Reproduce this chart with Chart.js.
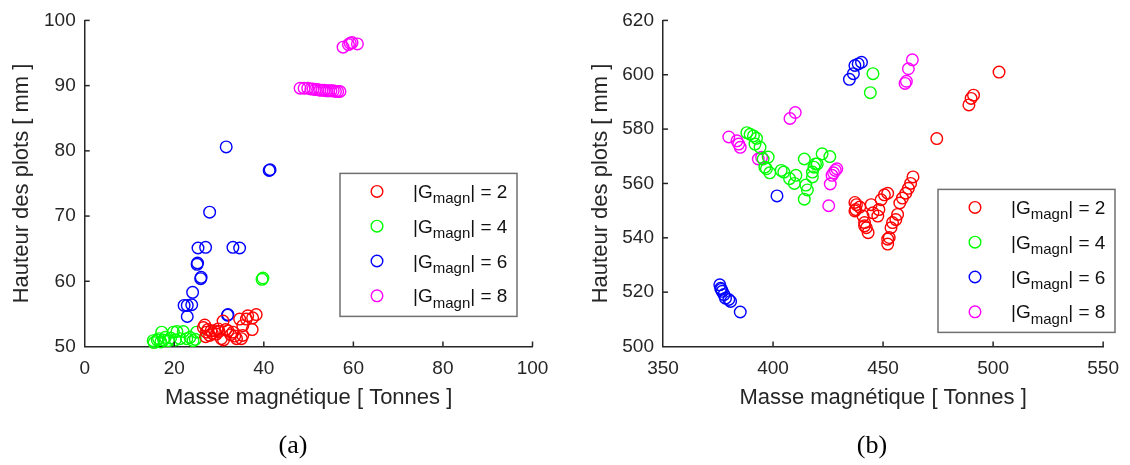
<!DOCTYPE html>
<html>
<head>
<meta charset="utf-8">
<script src="https://cdn.jsdelivr.net/npm/chart.js@4.4.0/dist/chart.umd.min.js"></script>
<style>
html,body{margin:0;padding:0;background:#fff;}
#wrap{position:relative;width:1130px;height:465px;overflow:hidden;background:#fff;}
.cv{position:absolute;top:0;width:565px;height:465px;}
.cap{position:absolute;top:430px;line-height:30px;font-family:"Liberation Serif","DejaVu Serif",serif;font-size:26px;color:#000;transform:translateX(-50%);white-space:nowrap;}
</style>
</head>
<body>
<div id="wrap">
  <div class="cv" style="left:0"><canvas id="chartA" width="565" height="465"></canvas></div>
  <div class="cv" style="left:565px"><canvas id="chartB" width="565" height="465"></canvas></div>
  <div class="cap" style="left:293px">(a)</div>
  <div class="cap" style="left:872px">(b)</div>
</div>
<script>
// ---------- DATA ----------
const xTitle = "Masse magnétique [ Tonnes ]";
const yTitle = "Hauteur des plots [ mm ]";
const gValues = [2, 4, 6, 8];
const seriesColors = ["#FF0000", "#00FF00", "#0000FF", "#FF00FF"];
const legendPrefix = "|G";
const legendSub = "magn";
const legendSuffix = "| = ";

// (a) left chart
const aRedX = [26.5, 26.8, 27.2, 27.0, 27.9, 28.5, 29.4, 29.0, 30.0, 30.5, 30.9, 31.0, 31.5, 32.0, 32.6, 33.1, 33.5, 33.9, 34.6, 35.0, 35.3, 35.3, 36.1, 36.4, 37.4, 37.5, 38.3, 27.5, 28.2, 29.8];
const aRedY = [52.9, 53.3, 52.2, 51.5, 51.7, 52.0, 51.9, 52.4, 52.3, 51.2, 53.9, 51.0, 52.6, 52.4, 51.8, 52.2, 51.6, 51.2, 54.2, 51.2, 53.2, 51.7, 54.2, 54.7, 52.6, 54.4, 54.9, 52.6, 52.4, 52.7];
const aGreenX = [15.3, 15.5, 16.2, 16.5, 17.2, 17.6, 18.0, 18.7, 19.2, 19.8, 20.6, 21.3, 22.0, 22.8, 23.5, 24.2, 25.0, 24.7, 17.0, 20.2, 39.6, 39.8];
const aGreenY = [50.9, 50.6, 51.0, 51.2, 52.2, 51.0, 51.4, 50.9, 51.3, 52.2, 52.3, 51.2, 52.3, 51.2, 51.4, 50.9, 52.2, 51.1, 50.7, 51.0, 60.3, 60.5];
const aBlueX = [31.6, 41.2, 41.4, 27.9, 25.3, 27.0, 33.1, 34.6, 25.1, 25.2, 25.9, 26.0, 24.1, 22.2, 22.9, 23.9, 22.9, 31.9, 32.0];
const aBlueY = [80.6, 77.0, 77.1, 70.6, 65.1, 65.2, 65.2, 65.1, 62.6, 62.8, 60.4, 60.6, 58.3, 56.3, 56.3, 56.4, 54.6, 54.8, 54.9];
const aMagX = [48.1, 49.0, 49.8, 50.5, 51.0, 51.5, 52.0, 52.5, 53.0, 53.5, 54.0, 54.5, 55.0, 55.5, 56.0, 56.5, 57.0, 57.7, 58.9, 59.7, 60.9, 59.3];
const aMagY = [89.6, 89.6, 89.6, 89.5, 89.5, 89.4, 89.4, 89.3, 89.3, 89.3, 89.2, 89.2, 89.2, 89.2, 89.1, 89.1, 89.1, 95.9, 96.3, 96.6, 96.4, 96.5];
const aXTicks = [0, 20, 40, 60, 80, 100];
const aYTicks = [50, 60, 70, 80, 90, 100];

// (b) right chart
const bRedX = [502.7, 491.1, 490.0, 489.0, 474.4, 437.2, 437.9, 437.6, 439.4, 437.2, 440.9, 441.6, 442.4, 443.2, 444.6, 445.4, 447.6, 448.1, 449.1, 450.6, 452.1, 453.6, 454.3, 455.8, 456.6, 457.6, 458.8, 460.3, 461.5, 462.5, 463.6, 452.8, 452.1, 452.1, 441.6];
const bRedY = [601.0, 592.5, 591.3, 588.9, 576.5, 553.0, 552.2, 550.4, 551.3, 549.9, 548.0, 545.6, 543.7, 541.9, 552.2, 549.2, 548.0, 550.4, 554.0, 555.8, 556.4, 543.7, 545.6, 546.7, 548.6, 552.8, 554.6, 556.4, 558.2, 560.0, 562.4, 540.1, 539.5, 537.7, 544.4];
const bGreenX = [445.4, 444.2, 388.1, 389.6, 391.1, 392.5, 391.8, 394.1, 397.8, 395.5, 397.0, 398.5, 403.7, 404.9, 407.5, 410.4, 409.7, 414.9, 415.6, 414.2, 414.2, 417.9, 418.6, 420.1, 422.3, 425.8, 417.9, 396.3, 419.3];
const bGreenY = [600.4, 593.4, 578.7, 578.1, 577.5, 576.6, 574.5, 573.3, 569.7, 569.0, 565.4, 563.9, 564.8, 564.2, 561.8, 563.0, 560.0, 559.4, 557.6, 554.2, 569.0, 564.2, 566.0, 567.2, 570.9, 569.9, 562.4, 566.0, 567.2];
const bBlueX = [434.7, 436.5, 437.2, 438.7, 440.2, 375.8, 376.2, 376.9, 377.7, 378.4, 379.9, 380.7, 385.1, 376.5, 401.8];
const bBlueY = [598.3, 600.4, 603.4, 604.0, 604.6, 522.7, 521.4, 520.3, 519.1, 517.8, 517.3, 516.6, 512.7, 521.0, 555.4];
const bMagX = [379.9, 383.6, 384.4, 385.1, 393.3, 394.8, 410.1, 407.7, 429.0, 428.3, 427.5, 426.8, 426.0, 425.3, 463.3, 461.5, 460.6, 460.0];
const bMagY = [577.1, 575.7, 574.5, 573.3, 569.0, 569.6, 586.1, 583.9, 565.4, 564.8, 563.9, 563.0, 559.8, 551.8, 605.5, 602.2, 597.6, 596.8];
const bXTicks = [350, 400, 450, 500, 550];
const bYTicks = [500, 520, 540, 560, 580, 600, 620];

// ---------- HELPERS ----------
const FONT = "'Liberation Sans', Arial, Helvetica, sans-serif";
const AXIS_COLOR = "#262626";

function pts(xs, ys) { return xs.map((x, i) => ({ x: x, y: ys[i] })); }

function makeDatasets(groups) {
  return groups.map((g, i) => ({
    label: legendPrefix + legendSub + legendSuffix + gValues[i],
    data: pts(g[0], g[1]),
    showLine: false,
    pointStyle: 'circle',
    pointRadius: 5.8,
    pointHoverRadius: 5.8,
    pointBorderWidth: 1.4,
    borderColor: seriesColors[i],
    backgroundColor: 'rgba(0,0,0,0)',
    pointBackgroundColor: 'rgba(0,0,0,0)',
    pointBorderColor: seriesColors[i],
    clip: false
  }));
}

const decorPlugin = {
  id: 'decor',
  afterDraw(chart, args, opts) {
    const ctx = chart.ctx, ca = chart.chartArea;
    const xs = chart.scales.x, ys = chart.scales.y;
    ctx.save();
    // inward tick marks
    ctx.strokeStyle = AXIS_COLOR;
    ctx.lineWidth = 1.5;
    xs.ticks.forEach(t => {
      const p = xs.getPixelForValue(t.value);
      if (Math.abs(p - ca.left) < 1) return;
      ctx.beginPath(); ctx.moveTo(p, ca.bottom); ctx.lineTo(p, ca.bottom - 5); ctx.stroke();
    });
    ys.ticks.forEach(t => {
      const p = ys.getPixelForValue(t.value);
      if (Math.abs(p - ca.bottom) < 1) return;
      ctx.beginPath(); ctx.moveTo(ca.left, p); ctx.lineTo(ca.left + 5, p); ctx.stroke();
    });
    // legend box
    const L = opts.legend;
    const bx = ca.left + L.dx, by = ca.top + L.dy;
    ctx.fillStyle = '#ffffff';
    ctx.fillRect(bx, by, L.w, L.h);
    ctx.strokeStyle = '#707070';
    ctx.lineWidth = 1.5;
    ctx.strokeRect(bx, by, L.w, L.h);
    chart.data.datasets.forEach((ds, i) => {
      const cy = by + 18 + i * 34.8;
      ctx.beginPath();
      ctx.arc(bx + 37, cy, 5.8, 0, Math.PI * 2);
      ctx.strokeStyle = ds.borderColor;
      ctx.lineWidth = 1.4;
      ctx.stroke();
      ctx.fillStyle = '#111111';
      ctx.textBaseline = 'alphabetic';
      ctx.textAlign = 'left';
      let tx = bx + 73;
      const base = cy + 6.5;
      ctx.font = "19px " + FONT;
      ctx.fillText(legendPrefix, tx, base);
      tx += ctx.measureText(legendPrefix).width;
      ctx.font = "15px " + FONT;
      ctx.fillText(legendSub, tx, base + 5.5);
      tx += ctx.measureText(legendSub).width;
      ctx.font = "19px " + FONT;
      ctx.fillText(legendSuffix + gValues[i], tx, base);
    });
    ctx.restore();
  }
};

function makeChart(id, groups, xr, yr, xTicks, yTicks, yAxisWidth, padRight, yTitlePad, legend) {
  const tickFont = { family: FONT, size: 19 };
  const titleFont = { family: FONT, size: 22 };
  return new Chart(document.getElementById(id), {
    type: 'scatter',
    data: { datasets: makeDatasets(groups) },
    plugins: [decorPlugin],
    options: {
      responsive: false,
      animation: false,
      devicePixelRatio: 1,
      layout: { padding: { left: 0, top: 14, right: padRight, bottom: 35 } },
      plugins: {
        legend: { display: false },
        tooltip: { enabled: false },
        decor: { legend: legend }
      },
      scales: {
        x: {
          type: 'linear', position: 'bottom',
          min: xr[0], max: xr[1],
          afterBuildTicks: s => { s.ticks = xTicks.map(v => ({ value: v })); },
          ticks: { font: tickFont, color: AXIS_COLOR, padding: 11, maxRotation: 0, autoSkip: false },
          grid: { display: true, drawOnChartArea: false, drawTicks: false, color: 'rgba(0,0,0,0)' },
          border: { display: true, color: AXIS_COLOR, width: 1.5 },
          title: { display: true, text: xTitle, font: titleFont, color: AXIS_COLOR, padding: { top: 0, bottom: 18.8 } },
          afterFit: s => { s.height = 83.5; }
        },
        y: {
          type: 'linear', position: 'left',
          min: yr[0], max: yr[1],
          afterBuildTicks: s => { s.ticks = yTicks.map(v => ({ value: v })); },
          ticks: { font: tickFont, color: AXIS_COLOR, padding: 9, autoSkip: false },
          grid: { display: true, drawOnChartArea: false, drawTicks: false, color: 'rgba(0,0,0,0)' },
          border: { display: true, color: AXIS_COLOR, width: 1.5 },
          title: { display: true, text: yTitle, font: titleFont, color: AXIS_COLOR, padding: { top: yTitlePad, bottom: 0 } },
          afterFit: s => { s.width = yAxisWidth; }
        }
      }
    }
  });
}

makeChart('chartA',
  [[aRedX, aRedY], [aGreenX, aGreenY], [aBlueX, aBlueY], [aMagX, aMagY]],
  [0, 100], [50, 100], aXTicks, aYTicks,
  84.7, 32.5, 9,
  { dx: 255.3, dy: 153, w: 177, h: 143 });

makeChart('chartB',
  [[bRedX, bRedY], [bGreenX, bGreenY], [bBlueX, bBlueY], [bMagX, bMagY]],
  [350, 550], [500, 620], bXTicks, bYTicks,
  98, 19, 23,
  { dx: 275, dy: 169, w: 177, h: 143 });
</script>
</body>
</html>
